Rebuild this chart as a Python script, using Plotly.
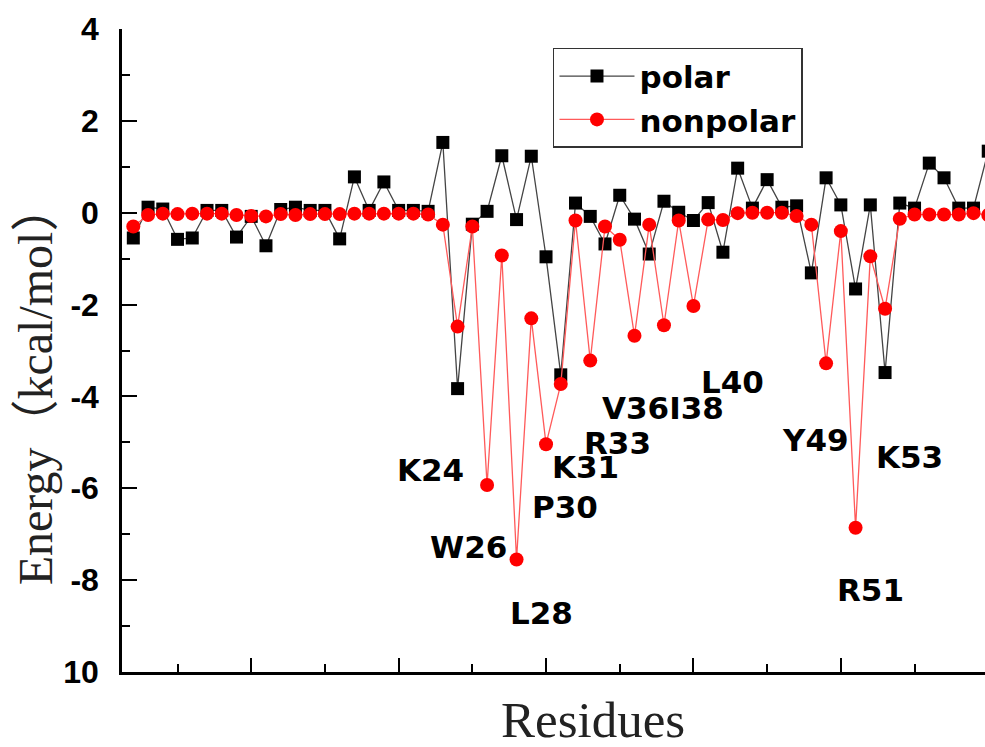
import plotly.graph_objects as go

residues = list(range(2, 61))

polar = [-0.55, 0.12, 0.08, -0.58, -0.55, 0.05, 0.05, -0.53, -0.08, -0.72,
         0.07, 0.12, 0.05, 0.05, -0.57, 0.78, 0.05, 0.67, 0.05, 0.05,
         0.03, 1.53, -3.83, -0.25, 0.03, 1.24, -0.15, 1.23, -0.96, -3.53,
         0.21, -0.08, -0.68, 0.38, -0.14, -0.90, 0.25, 0.01, -0.17, 0.22,
         -0.86, 0.97, 0.10, 0.72, 0.12, 0.15, -1.31, 0.76, 0.17, -1.66,
         0.17, -3.48, 0.21, 0.10, 1.08, 0.76, 0.10, 0.10, 1.34]

nonpolar = [-0.30, -0.05, -0.02, -0.03, -0.02, -0.02, -0.02, -0.05, -0.07, -0.08,
            -0.03, -0.05, -0.03, -0.03, -0.03, -0.02, -0.02, -0.02, -0.02, -0.02,
            -0.04, -0.26, -2.48, -0.30, -5.93, -0.93, -7.55, -2.30, -5.04, -3.73,
            -0.17, -3.22, -0.30, -0.59, -2.68, -0.26, -2.45, -0.17, -2.03, -0.15,
            -0.16, -0.01, 0.00, 0.00, 0.00, -0.07, -0.26, -3.28, -0.40, -6.86,
            -0.95, -2.09, -0.13, -0.04, -0.04, -0.04, -0.04, -0.01, -0.05]

label_text = ["K24", "W26", "L28", "P30", "K31", "R33", "V36I38", "L40", "Y49", "K53", "R51"]
label_x = [22.13, 24.71, 29.66, 31.29, 32.65, 34.88, 37.94, 42.62, 48.25, 54.69, 51.98]
label_y = [-5.60, -7.28, -8.72, -6.41, -5.54, -5.02, -4.25, -3.69, -4.95, -5.32, -8.21]

y_tickvals = [-10, -8, -6, -4, -2, 0, 2, 4]
y_ticktext = ["10", "-8", "-6", "-4", "-2", "0", "2", "4"]
y_minor = [-9, -7, -5, -3, -1, 1, 3]
x_tickvals = [10, 20, 30, 40, 50]
x_minor = [5, 15, 25, 35, 45, 55]

fig = go.Figure()
fig.add_trace(go.Scatter(
    x=residues, y=polar, name="polar", mode="lines+markers",
    line=dict(color="#444444", width=1.3),
    marker=dict(symbol="square", size=13, color="black"),
    legendgroup="a",
))
fig.add_trace(go.Scatter(
    x=residues, y=nonpolar, name="nonpolar", mode="lines+markers",
    line=dict(color="#ff5a5a", width=1.3),
    marker=dict(symbol="circle", size=14, color="#ff0000"),
    legendgroup="b",
))

for t, xx, yy in zip(label_text, label_x, label_y):
    fig.add_annotation(x=xx, y=yy, text=t, showarrow=False,
                       font=dict(family="DejaVu Sans", size=31, color="black", weight="bold"),
                       xanchor="center", yanchor="middle")

fig.add_annotation(xref="paper", yref="paper", x=-0.1, y=0.447,
                   text="Energy（kcal/mol）", textangle=-90, showarrow=False,
                   font=dict(family="Liberation Serif, Noto Sans CJK SC", size=48, color="#222222"),
                   xanchor="center", yanchor="middle")
fig.add_annotation(xref="paper", yref="paper", x=0.546, y=-0.074,
                   text="Residues", showarrow=False,
                   font=dict(family="Liberation Serif", size=51, color="#222222"),
                   xanchor="center", yanchor="middle")

fig.update_layout(
    width=985, height=747,
    margin=dict(l=122, r=0, t=29, b=75),
    plot_bgcolor="white", paper_bgcolor="white",
    showlegend=True,
    legend=dict(
        x=0.4994, y=0.9705, xanchor="left", yanchor="top",
        bordercolor="#333333", borderwidth=1.5, bgcolor="white",
        font=dict(family="DejaVu Sans", size=31, color="black", weight="bold"),
        itemwidth=75, tracegroupgap=0,
    ),
    xaxis=dict(
        range=[1.233, 59.78], showline=True, linecolor="black", linewidth=2.5,
        ticks="inside", tickvals=x_tickvals, ticklen=14, tickwidth=2, tickcolor="black",
        showticklabels=False, showgrid=False, zeroline=False,
        minor=dict(tickvals=x_minor, ticks="inside", ticklen=8, tickwidth=2, tickcolor="black"),
    ),
    yaxis=dict(
        range=[-10, 4], showline=True, linecolor="black", linewidth=2.5,
        ticks="inside", tickvals=y_tickvals, ticktext=y_ticktext, ticklen=15, tickwidth=2,
        tickcolor="black", showgrid=False, zeroline=False,
        tickfont=dict(family="Liberation Sans", size=32, color="black", weight="bold"),
        ticklabelstandoff=14,
        minor=dict(tickvals=y_minor, ticks="inside", ticklen=8, tickwidth=2, tickcolor="black"),
    ),
)

fig.write_html("out.html")
